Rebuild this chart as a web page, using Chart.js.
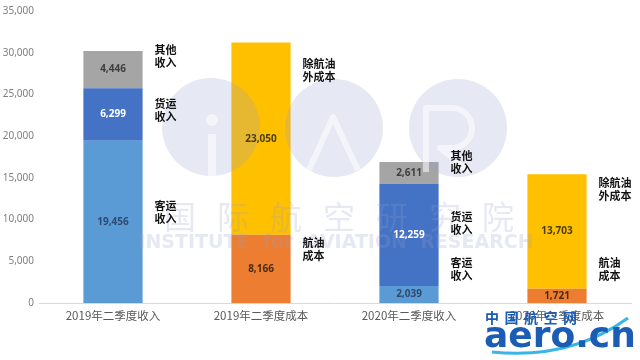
<!DOCTYPE html>
<html>
<head>
<meta charset="utf-8">
<script src="https://cdn.jsdelivr.net/npm/chart.js@4"></script>
<style>
  body { margin: 0; background: #fff; }
  #wrap { width: 640px; height: 360px; }
</style>
</head>
<body>
<div id="wrap"><canvas id="myChart"></canvas></div>
<script>
// data
const categories = ['2019年二季度收入', '2019年二季度成本', '2020年二季度收入', '2020年二季度成本'];
const passenger = [19456, null, 2039, null];   // 客运收入
const cargo     = [6299, null, 12259, null];   // 货运收入
const other     = [4446, null, 2611, null];    // 其他收入
const fuel      = [null, 8166, null, 1721];    // 航油成本
const nonFuel   = [null, 23050, null, 13703];  // 除航油外成本
const seriesNames = ['客运收入', '货运收入', '其他收入', '航油成本', '除航油外成本'];
const sideNotes = [['客运', '收入'], ['货运', '收入'], ['其他', '收入'], ['航油', '成本'], ['除航油', '外成本']];
const yTicks = [0, 5000, 10000, 15000, 20000, 25000, 30000, 35000];

const CJK = "'Noto Sans CJK SC', 'Noto Sans', sans-serif";

// nudges of the side notes (px, relative to the segment middle)
const noteShift = [
  [-10, 0, -25, 0],
  [-4, 0, -12, 0],
  [-13, 0, -11, 0],
  [0, -20, 0, -27],
  [0, -68, 0, -42]
];
const valueColors = ['#2e4a6e', '#ffffff', '#3f3f3f', '#4a2c14', '#4a3c10'];

function drawWatermark(ctx) {
  ctx.save();
  ctx.fillStyle = 'rgba(150,158,205,0.24)';
  [[211, 127], [334, 128], [458, 128]].forEach(([x, y]) => {
    ctx.beginPath();
    ctx.arc(x, y, 49, 0, Math.PI * 2);
    ctx.fill();
  });
  // white glyphs i / A / R (semi transparent so bars show through)
  ctx.fillStyle = 'rgba(255,255,255,0.55)';
  ctx.strokeStyle = 'rgba(255,255,255,0.55)';
  ctx.beginPath();
  ctx.arc(212, 120, 6, 0, Math.PI * 2);
  ctx.fill();
  ctx.fillRect(208, 134, 8, 42);
  ctx.lineWidth = 6;
  ctx.lineJoin = 'round';
  ctx.beginPath();
  ctx.moveTo(309, 170);
  ctx.lineTo(333, 117);
  ctx.lineTo(358, 170);
  ctx.stroke();
  ctx.beginPath();
  ctx.moveTo(426, 172);
  ctx.lineTo(426, 108);
  ctx.lineTo(452, 108);
  ctx.arc(452, 128, 20, -Math.PI / 2, Math.PI / 2);
  ctx.lineTo(440, 148);
  ctx.lineTo(470, 172);
  ctx.stroke();

  ctx.fillStyle = 'rgba(150,158,205,0.24)';
  ctx.font = '32px ' + CJK;
  ctx.textAlign = 'center';
  ctx.textBaseline = 'middle';
  '国际航空研究院'.split('').forEach((c, i) => {
    ctx.fillText(c, 180 + i * 53, 217);
  });
  ctx.font = 'bold 19px "DejaVu Sans"';
  ctx.fillText('INSTITUTE  for  AVIATION  RESEARCH', 336, 243);
  ctx.restore();
}

const labelPlugin = {
  id: 'labels',
  afterDatasetsDraw(chart) {
    const ctx = chart.ctx;
    drawWatermark(ctx);

    ctx.save();
    chart.data.datasets.forEach((ds, di) => {
      const meta = chart.getDatasetMeta(di);
      meta.data.forEach((bar, i) => {
        const v = ds.data[i];
        if (v == null) return;
        const mid = (bar.y + bar.base) / 2;
        ctx.fillStyle = valueColors[di];
        ctx.font = 'bold 10px "Noto Sans", sans-serif';
        ctx.textAlign = 'center';
        ctx.textBaseline = 'middle';
        ctx.fillText(v.toLocaleString('en-US'), bar.x, mid);
        // side note
        const lines = sideNotes[di];
        const x = bar.x + bar.width / 2 + 12;
        const cy = mid + noteShift[di][i];
        ctx.fillStyle = '#111';
        ctx.font = 'bold 11px ' + CJK;
        ctx.textAlign = 'left';
        ctx.fillText(lines[0], x, cy - 6.5);
        ctx.fillText(lines[1], x, cy + 6.5);
      });
    });
    ctx.restore();
  },
  afterDraw(chart) {
    const ctx = chart.ctx;
    ctx.save();
    // aero.cn logo
    ctx.strokeStyle = '#38b6e8';
    ctx.lineWidth = 3;
    ctx.beginPath();
    ctx.moveTo(492, 352);
    ctx.quadraticCurveTo(570, 360, 628, 318);
    ctx.stroke();
    ctx.fillStyle = '#1b5cb4';
    ctx.font = 'bold 14px ' + CJK;
    ctx.textBaseline = 'middle';
    '中国航空网'.split('').forEach((c, i) => {
      ctx.fillText(c, 485 + i * 19.5, 318);
    });
    ctx.font = 'bold 36px "DejaVu Sans"';
    ctx.textBaseline = 'alphabetic';
    ctx.fillText('aero.cn', 484, 347);
    ctx.restore();
  }
};

const colors = ['#5b9bd5', '#4472c4', '#a5a5a5', '#ed7d31', '#ffc000'];
const seriesData = [passenger, cargo, other, fuel, nonFuel];

const data = {
  labels: categories,
  datasets: seriesData.map((d, i) => ({
    label: seriesNames[i],
    data: d,
    backgroundColor: colors[i],
    borderWidth: 0,
    categoryPercentage: 1,
    barPercentage: 0.4
  }))
};

const config = {
  type: 'bar',
  data,
  options: {
    responsive: true,
    maintainAspectRatio: false,
    animation: false,
    layout: { padding: { top: 9, right: 9, bottom: 0, left: 0 } },
    plugins: {
      legend: { display: false },
      tooltip: { enabled: false }
    },
    scales: {
      x: {
        stacked: true,
        grid: { display: false, drawTicks: false },
        border: { display: true, color: '#d9d9d9', width: 1 },
        ticks: { color: '#595959', font: { size: 11.5, family: CJK }, padding: 6, maxRotation: 0 },
        afterFit(s) { s.height = 57; }
      },
      y: {
        stacked: true,
        min: 0,
        max: 35000,
        afterBuildTicks(s) { s.ticks = yTicks.map(v => ({ value: v })); },
        grid: { display: false, drawTicks: false },
        border: { display: false },
        ticks: {
          color: '#7f7f7f',
          font: { size: 10, family: '"Noto Sans", sans-serif' },
          padding: 5,
          callback: v => v.toLocaleString('en-US')
        },
        afterFit(s) { s.width = 39; }
      }
    }
  },
  plugins: [labelPlugin]
};

const myChart = new Chart(document.getElementById('myChart'), config);
</script>
</body>
</html>
